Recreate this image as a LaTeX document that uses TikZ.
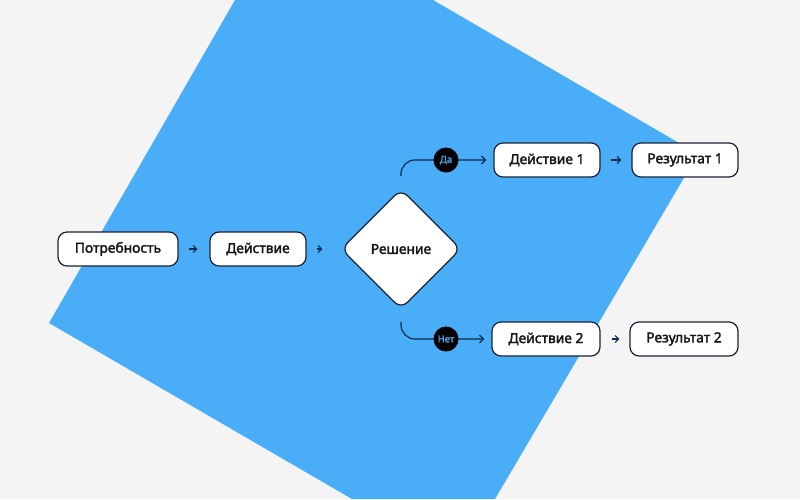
\documentclass[tikz,border=0pt]{standalone}
\usepackage{fontspec}
\setmainfont{Noto Sans}[AutoFakeBold=2.2]
\usetikzlibrary{shapes.geometric,arrows.meta}
\definecolor{bg}{HTML}{F4F4F4}
\definecolor{bluebg}{HTML}{49ADF8}
\definecolor{navy}{HTML}{0E2A4C}
\definecolor{edge}{HTML}{1B2233}
\definecolor{ink}{HTML}{161616}
\definecolor{lbl}{HTML}{4AA8F0}
\tikzset{
  box/.style={draw=edge, line width=1.2pt, fill=white, rounded corners=9pt,
    minimum height=34pt, inner sep=0pt, text=ink,
    font=\fontsize{13.8}{15}\selectfont\bfseries},
  decision/.style={diamond, aspect=1, draw=edge, line width=1.2pt, fill=white,
    rounded corners=9pt, minimum size=120pt, inner sep=0pt, text=ink,
    font=\fontsize{13.8}{15}\selectfont\bfseries},
  arr/.style={draw=navy, line width=1.1pt, -{Straight Barb[length=3.5pt,width=7pt]}},
  conn/.style={draw=navy, line width=1.2pt, -{Straight Barb[length=4pt,width=8pt]}},
  tag/.style={circle, fill=black, minimum size=25pt, inner sep=0pt, text=lbl,
    font=\fontsize{9.5}{10}\selectfont\bfseries},
}
\begin{document}
\begin{tikzpicture}[x=1pt,y=-1pt]
\fill[bg] (0,0) rectangle (800,499);
\useasboundingbox (0,0) rectangle (800,499);
\fill[bluebg] (235,0) -- (433,0) -- (698,154) -- (495,499) -- (352,499) -- (49,323) -- cycle;

\node[box, minimum width=120pt] (potr) at (118,249) {Потребность};
\node[box, minimum width=96pt] (act) at (258,249) {Действие};
\node[decision] (dec) at (401,249) {Решение};
\node[box, minimum width=106pt] (act1) at (547,160) {Действие 1};
\node[box, minimum width=106pt] (res1) at (685,160) {Результат 1};
\node[box, minimum width=108pt] (act2) at (546,339) {Действие 2};
\node[box, minimum width=108pt] (res2) at (684,339) {Результат 2};

\draw[arr, shorten <=10pt, shorten >=12pt] (potr) -- (act);
\draw[arr, shorten <=10pt, shorten >=18pt] (act) -- (dec);
\draw[arr, shorten <=10pt, shorten >=10pt] (act1) -- (res1);
\draw[arr, shorten <=11pt, shorten >=10pt] (act2) -- (res2);

\coordinate (ys) at (401,176);
\coordinate (ns) at (401,322);
\draw[conn, rounded corners=14pt, shorten >=7pt] (ys) |- (act1.west);
\draw[conn, rounded corners=14pt, shorten >=7pt] (ns) |- (act2.west);
\node[tag] (yes) at (446,160) {Да};
\node[tag] (no) at (446,339) {Нет};
\end{tikzpicture}
\end{document}
